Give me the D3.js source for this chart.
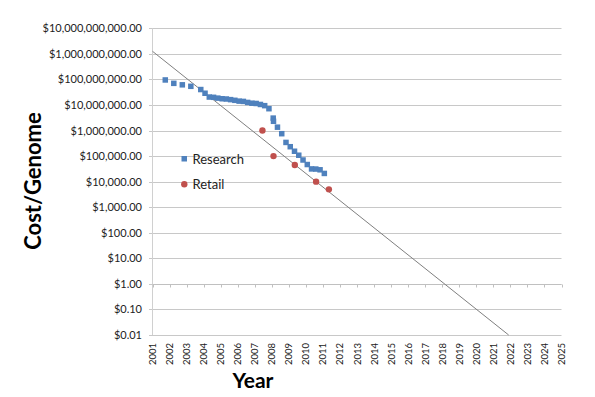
<!DOCTYPE html>
<html><head><meta charset="utf-8">
<script src="https://cdn.jsdelivr.net/npm/d3@7"></script>
<style>html,body{margin:0;padding:0;background:#fff;}svg{display:block;font-family:Lato,"Open Sans",sans-serif;}</style>
</head><body><svg id="c" width="595" height="397"></svg>
<script>
// Research cost per genome (decimal year = year + month/12)
const researchYears = [2001.75,2002.25,2002.75,2003.25,2003.833,2004.083,2004.333,2004.583,2004.833,2005.083,2005.333,2005.583,2005.833,2006.083,2006.333,2006.583,2006.833,2007.083,2007.333,2007.583,2007.833,2008.083,2008.1,2008.333,2008.583,2008.833,2009.083,2009.333,2009.583,2009.833,2010.083,2010.333,2010.583,2010.833,2011.083];
const researchCost = [95263072,70175437,61448422,53751684,40157554,28780376,20442576,19934346,18519312,17534970,17125211,16187649,15208068,14146723,13801124,12585659,11732535,11455315,10474556,9408739,7147571,3063820,2300000,1352982,752080,342502,232735,154714,108065,70333,46774,31512,31125,29092,20963];
// Retail cost per genome
const retailYears = [2007.45,2008.1,2009.35,2010.6,2011.35];
const retailCost = [1000000,100000,45000,10000,5000];
// Trend line endpoints
const trendYears = [2001,2021.9];
const trendCost = [1.26e9,0.01];
// Axis ticks
const yTicks = [1e10,1e9,1e8,1e7,1e6,1e5,1e4,1e3,100,10,1,0.1,0.01];
const xTicks = d3.range(2001,2026);

const svg = d3.select("#c");
const x = d3.scaleLinear().domain([2001,2025]).range([152.5,561.5]);
const y = d3.scaleLog().domain([0.01,1e10]).range([335,28.3]);
const fmt = d3.format(",.2f");

// gridlines
svg.append("g").selectAll("line").data(yTicks).join("line")
  .attr("x1",149).attr("x2",x(2025))
  .attr("y1",d=>Math.round(y(d))+0.5).attr("y2",d=>Math.round(y(d))+0.5)
  .attr("stroke","#c8c8c8").attr("stroke-width",1);
// left axis line
svg.append("line").attr("x1",152.5).attr("x2",152.5).attr("y1",y(1e10)).attr("y2",y(0.01))
  .attr("stroke","#d0d0d0");
// y labels
svg.append("g").selectAll("text").data(yTicks).join("text")
  .attr("x",142).attr("y",d=>y(d)+4).attr("text-anchor","end")
  .attr("font-size",11).attr("fill","#222").text(d=>"$"+fmt(d));
// x axis at $1
const xa = svg.append("g").attr("transform",`translate(0,${Math.round(y(1))+0.5})`);
xa.append("line").attr("x1",x(2001)).attr("x2",x(2025)).attr("stroke","#c0c0c0");
xa.selectAll("line.t").data(xTicks).join("line").attr("class","t")
  .attr("x1",d=>Math.round(x(d))+0.5).attr("x2",d=>Math.round(x(d))+0.5).attr("y1",0).attr("y2",3)
  .attr("stroke","#c0c0c0");
// x labels
svg.append("g").selectAll("text").data(xTicks).join("text")
  .attr("transform",d=>`translate(${x(d)+3.5},343) rotate(-90)`)
  .attr("text-anchor","end").attr("font-size",9.5).attr("fill","#222").text(d=>d);

// trend line
svg.append("line").attr("x1",x(trendYears[0])).attr("y1",y(trendCost[0]))
  .attr("x2",x(trendYears[1])).attr("y2",y(trendCost[1]))
  .attr("stroke","#7f7f7f").attr("stroke-width",1);

// research squares
svg.append("g").selectAll("rect").data(researchYears.map((d,i)=>[d,researchCost[i]])).join("rect")
  .attr("x",d=>x(d[0])-2.75).attr("y",d=>y(d[1])-2.75).attr("width",5.5).attr("height",5.5)
  .attr("fill","#4f81bd");
// retail circles
svg.append("g").selectAll("circle").data(retailYears.map((d,i)=>[d,retailCost[i]])).join("circle")
  .attr("cx",d=>x(d[0])).attr("cy",d=>y(d[1])).attr("r",3.2)
  .attr("fill","#c0504d");

// legend
svg.append("rect").attr("x",181.5).attr("y",156).attr("width",5.5).attr("height",5.5).attr("fill","#4f81bd");
svg.append("text").attr("x",192.5).attr("y",163.5).attr("font-size",13).attr("fill","#222").text("Research");
svg.append("circle").attr("cx",184.3).attr("cy",184.3).attr("r",3.2).attr("fill","#c0504d");
svg.append("text").attr("x",192.5).attr("y",189).attr("font-size",13).attr("fill","#222").text("Retail");

// axis titles
svg.append("text").attr("transform","translate(41,181) rotate(-90)").attr("text-anchor","middle")
  .attr("font-size",22).attr("font-weight","bold").attr("fill","#000").text("Cost/Genome");
svg.append("text").attr("x",253).attr("y",388).attr("text-anchor","middle")
  .attr("font-size",21).attr("font-weight","bold").attr("fill","#000").text("Year");
</script></body></html>
